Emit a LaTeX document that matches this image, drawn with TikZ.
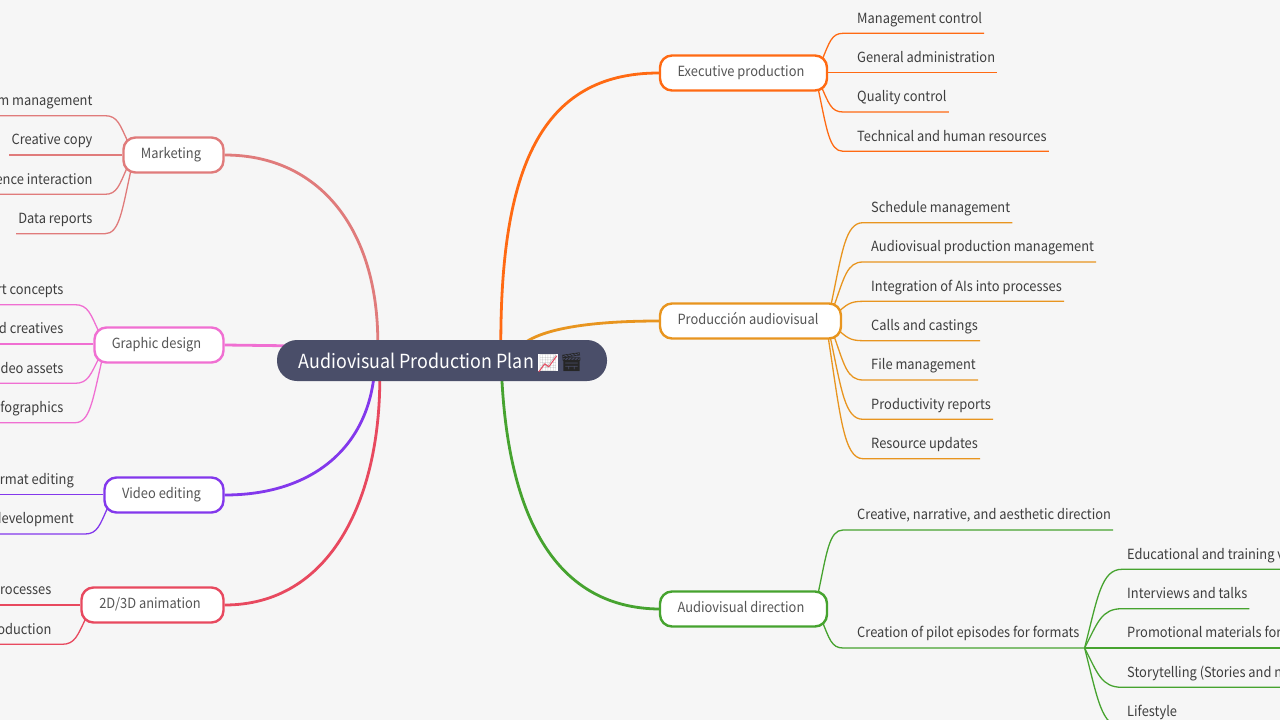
\documentclass[tikz,border=0pt]{standalone}
\usepackage{fontspec}
\setmainfont[FakeStretch=0.92]{Noto Sans CJK SC}
\newfontfamily\emojifont{Noto Emoji}
\usetikzlibrary{calc,backgrounds}
\definecolor{bgc}{HTML}{F6F6F6}
\definecolor{txtc}{HTML}{3E3E3E}
\definecolor{toptxt}{HTML}{555555}
\definecolor{rootc}{HTML}{4A4E69}
\definecolor{cexec}{HTML}{FF6A13}
\definecolor{cprod}{HTML}{E8951F}
\definecolor{cdir}{HTML}{46A32F}
\definecolor{cmkt}{HTML}{E07B7B}
\definecolor{cgra}{HTML}{F06FD2}
\definecolor{cvid}{HTML}{8338EC}
\definecolor{cani}{HTML}{E8495F}
\tikzset{
  x=1pt,y=-1pt,
  topicbox/.style={draw=#1,fill=white,line width=2.4pt,rounded corners=12pt,inner sep=0pt,
    text=toptxt,text height=10.8pt,text depth=3.2pt,font=\fontsize{14}{17}\selectfont},
  leafr/.style={anchor=base west,inner sep=0pt,text=txtc,font=\fontsize{14}{17}\selectfont},
  leafl/.style={anchor=base east,inner sep=0pt,text=txtc,font=\fontsize{14}{17}\selectfont},
  mainline/.style={draw=#1,line width=2.8pt},
  subline/.style={draw=#1,line width=1.3pt},
}
\newcommand{\leaf}[5]{\node[#2] (#1) at (#3,#4-10.2) {#5};}
\newcommand{\padded}[2][5pt]{#2\hspace*{#1}}
% colour, start, flat start, end
\newcommand{\bline}[4]{%
  \coordinate (S) at #2; \coordinate (F) at #3;
  \coordinate (Ca) at ($(S)!.35!(F)$); \coordinate (Cb) at ($(S)!.65!(F)$); \coordinate (Cc) at ($(S)!.45!(F)$);
  \draw[subline=#1] (S) .. controls (Ca|-Cb) and (Cc|-F) .. (F) -- #4;}
\begin{document}
\begin{tikzpicture}
\useasboundingbox (0,0) rectangle (1280,720);
\clip (0,0) rectangle (1280,720);

% central and main topics
\node[fill=rootc,rounded corners=20pt,minimum width=330pt,minimum height=41pt,inner sep=0pt,text=white,text height=16.5pt,text depth=1.5pt,font=\fontsize{19.4}{22}\selectfont] (root) at (442,360.5)
  {\padded[2pt]{Audiovisual Production Plan {\emojifont\setlength{\fboxsep}{0pt}\fontsize{16}{22}\selectfont\colorbox{white}{\textcolor{gray!45}{📈}}\hspace{1.5pt}\fontsize{18.5}{22}\selectfont\textcolor{black!85}{🎬}}}};
\draw[cani,line width=1pt,line join=round] ($(root.north west)+(262,32)$) -- ($(root.north west)+(268,24)$) -- ($(root.north west)+(272,27)$) -- ($(root.north west)+(280,16)$);

\node[topicbox=cexec,minimum width=167pt,minimum height=35pt] (exec) at (743.5,73) {\padded{Executive production}};
\node[topicbox=cprod,minimum width=181pt,minimum height=35pt] (prod) at (750.5,321) {\padded{Producción audiovisual}};
\node[topicbox=cdir,minimum width=167pt,minimum height=35pt] (dir) at (743.5,609) {\padded{Audiovisual direction}};
\node[topicbox=cmkt,minimum width=100pt,minimum height=35pt] (mkt) at (173.5,155) {\padded{Marketing}};
\node[topicbox=cgra,minimum width=129pt,minimum height=35pt] (gra) at (159,345) {\padded{Graphic design}};
\node[topicbox=cvid,minimum width=119pt,minimum height=35pt] (vid) at (164,495) {\padded{Video editing}};
\node[topicbox=cani,minimum width=142pt,minimum height=35pt] (ani) at (152.5,605) {\padded{2D/3D animation}};

% leaves right
\leaf{e1}{leafr}{857}{33.3}{Management control}
\leaf{e2}{leafr}{857}{72.7}{General administration}
\leaf{e3}{leafr}{857}{112}{Quality control}
\leaf{e4}{leafr}{857}{151.3}{Technical and human resources}
\leaf{p1}{leafr}{871}{222.7}{Schedule management}
\leaf{p2}{leafr}{871}{262}{Audiovisual production management}
\leaf{p3}{leafr}{871}{301.3}{Integration of AIs into processes}
\leaf{p4}{leafr}{871}{340.7}{Calls and castings}
\leaf{p5}{leafr}{871}{380}{File management}
\leaf{p6}{leafr}{871}{419.3}{Productivity reports}
\leaf{p7}{leafr}{871}{458.7}{Resource updates}
\leaf{d1}{leafr}{857}{530}{Creative, narrative, and aesthetic direction}
\leaf{d2}{leafr}{857}{648}{Creation of pilot episodes for formats}
\leaf{f1}{leafr}{1127}{569.3}{Educational and training v}
\leaf{f2}{leafr}{1127}{608.7}{Interviews and talks}
\leaf{f3}{leafr}{1127}{648}{Promotional materials for}
\leaf{f4}{leafr}{1127}{687.3}{Storytelling (Stories and n}
\leaf{f5}{leafr}{1127}{726.7}{Lifestyle}
% leaves left
\leaf{m1}{leafl}{92.6}{115.7}{m management}
\leaf{m2}{leafl}{92.6}{155}{Creative copy}
\leaf{m3}{leafl}{92.6}{194.3}{ence interaction}
\leaf{m4}{leafl}{92.6}{233.7}{Data reports}
\leaf{g1}{leafl}{63.6}{304.7}{rt concepts}
\leaf{g2}{leafl}{63.6}{344}{d creatives}
\leaf{g3}{leafl}{63.6}{383.3}{deo assets}
\leaf{g4}{leafl}{63.6}{422.7}{fographics}
\leaf{v1}{leafl}{74}{494.7}{rmat editing}
\leaf{v2}{leafl}{74}{534}{development}
\leaf{a1}{leafl}{51.6}{605}{rocesses}
\leaf{a2}{leafl}{51.6}{644.3}{oduction}

\begin{scope}[on background layer]
\fill[bgc] (0,0) rectangle (1280,720);
% main branches
\coordinate (RT) at (root.north west);
\draw[mainline=cexec] ($(RT)+(224,3)$) .. controls (501,170) and (540,73) .. (exec.west);
\draw[mainline=cprod] ($(RT)+(248,3)$) .. controls (550,325) and (610,321) .. (prod.west);
\draw[mainline=cdir] ($(RT)+(225,38)$) .. controls (510,540) and (570,608) .. (dir.west);
\draw[mainline=cmkt] (mkt.east) .. controls (320,155) and (378,230) .. ($(RT)+(101,3)$);
\draw[mainline=cgra] (gra.east) -- ($(RT)+(12,6)$);
\draw[mainline=cvid] (vid.east) .. controls (310,495) and (365,450) .. ($(RT)+(97,38)$);
\draw[mainline=cani] (ani.east) .. controls (330,605) and (380,500) .. ($(RT)+(103,38)$);
% executive
\bline{cexec}{(822,60)}{(843,33.3)}{($(e1.base east)+(2,10.2)$)}
\coordinate (E2) at ($(e2.base east)+(2,10.2)$);
\draw[subline=cexec] (exec.east|-E2) -- (E2);
\bline{cexec}{(821,86)}{(843,112)}{($(e3.base east)+(2,10.2)$)}
\bline{cexec}{(818,88)}{(843,151.3)}{($(e4.base east)+(2,10.2)$)}
% production
\bline{cprod}{(831,305)}{(863,222.7)}{($(p1.base east)+(2,10.2)$)}
\bline{cprod}{(834,306)}{(863,262)}{($(p2.base east)+(2,10.2)$)}
\bline{cprod}{(838,312)}{(863,301.3)}{($(p3.base east)+(2,10.2)$)}
\bline{cprod}{(838,330)}{(863,340.7)}{($(p4.base east)+(2,10.2)$)}
\bline{cprod}{(834,336)}{(863,380)}{($(p5.base east)+(2,10.2)$)}
\bline{cprod}{(830,336)}{(863,419.3)}{($(p6.base east)+(2,10.2)$)}
\bline{cprod}{(828,336)}{(863,458.7)}{($(p7.base east)+(2,10.2)$)}
% direction
\bline{cdir}{(818,594)}{(843,530)}{($(d1.base east)+(2,10.2)$)}
\coordinate (H) at ($(d2.base east)+(5,10.2)$);
\bline{cdir}{(822,621)}{(843,648)}{(H)}
\bline{cdir}{(H)}{(1122,569.3)}{(1290,569.3)}
\bline{cdir}{(H)}{(1122,608.7)}{($(f2.base east)+(2,10.2)$)}
\draw[subline=cdir] (H) -- (1290,648);
\bline{cdir}{(H)}{(1122,687.3)}{(1290,687.3)}
\bline{cdir}{(H)}{(1122,726.7)}{(1290,726.7)}
% marketing
\bline{cmkt}{(128,142)}{(105,115.7)}{(-5,115.7)}
\coordinate (M2) at ($(m2.base west)+(-2,10.2)$);
\draw[subline=cmkt] (mkt.west|-M2) -- (M2);
\bline{cmkt}{(127,168)}{(105,194.3)}{(-5,194.3)}
\bline{cmkt}{(131,170)}{(105,233.7)}{($(m4.base west)+(-2,10.2)$)}
% graphic
\bline{cgra}{(99,332)}{(75,304.7)}{(-5,304.7)}
\coordinate (G2) at (-5,344);
\draw[subline=cgra] (gra.west|-G2) -- (G2);
\bline{cgra}{(99,358)}{(75,383.3)}{(-5,383.3)}
\bline{cgra}{(102,360)}{(75,422.7)}{(-5,422.7)}
% video
\coordinate (V1) at (-5,494.7);
\draw[subline=cvid] (vid.west|-V1) -- (V1);
\bline{cvid}{(108,507)}{(85,534)}{(-5,534)}
% animation
\draw[subline=cani] (ani.west) -- (-5,605);
\bline{cani}{(86,618)}{(62,644.3)}{(-5,644.3)}
\end{scope}
\end{tikzpicture}
\end{document}
